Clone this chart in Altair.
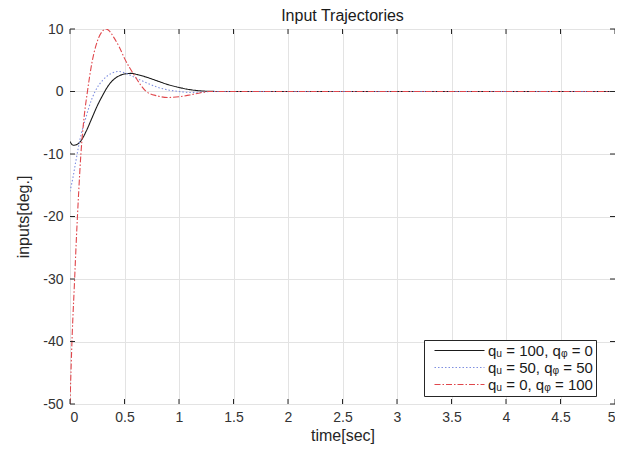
import altair as alt
import pandas as pd

# ---- data ----
t_black = [0, 0.03, 0.06, 0.10, 0.15, 0.20, 0.25, 0.30, 0.35, 0.40, 0.45, 0.50, 0.56, 0.62, 0.70, 0.80, 0.90, 1.00, 1.10, 1.20, 1.30, 1.40, 2.0, 3.0, 4.0, 5.0]
v_black = [-8.0, -8.6, -8.5, -7.9, -6.3, -4.3, -2.3, -0.6, 0.9, 1.9, 2.5, 2.8, 2.9, 2.7, 2.3, 1.7, 1.1, 0.65, 0.3, 0.1, 0.02, 0.0, 0.0, 0.0, 0.0, 0.0]

t_blue = [0, 0.03, 0.05, 0.10, 0.14, 0.20, 0.23, 0.30, 0.38, 0.45, 0.50, 0.60, 0.70, 0.80, 0.90, 1.00, 1.10, 1.20, 1.30, 1.40, 2.0, 3.0, 4.0, 5.0]
v_blue = [-16.0, -13.5, -11.5, -7.0, -4.5, -1.2, 0.0, 1.8, 2.9, 3.2, 3.0, 2.2, 1.4, 0.7, 0.25, 0.0, -0.15, -0.1, 0.0, 0.0, 0.0, 0.0, 0.0, 0.0]

t_red = [0, 0.02, 0.04, 0.06, 0.08, 0.10, 0.13, 0.16, 0.20, 0.25, 0.30, 0.33, 0.36, 0.40, 0.45, 0.50, 0.59, 0.70, 0.80, 0.90, 1.00, 1.10, 1.20, 1.27, 1.40, 2.0, 3.0, 4.0, 5.0]
v_red = [-50.0, -39.0, -31.0, -23.0, -16.0, -10.0, -4.0, 0.0, 4.5, 8.0, 9.7, 10.0, 9.7, 8.7, 7.2, 5.3, 2.6, 0.0, -0.7, -0.95, -0.85, -0.55, -0.2, 0.0, 0.0, 0.0, 0.0, 0.0, 0.0]

labels = ["q\u1d64 = 100, q\u1d69 = 0", "q\u1d64 = 50, q\u1d69 = 50", "q\u1d64 = 0, q\u1d69 = 100"]
colors = ["#1a1a1a", "#7f8fe0", "#e0474c"]
dashes = [[1, 0], [1.5, 2], [6, 2, 1.5, 2]]

x_ticks = [0, 0.5, 1, 1.5, 2, 2.5, 3, 3.5, 4, 4.5, 5]
y_ticks = [-50, -40, -30, -20, -10, 0, 10]

W, H = 545, 375
FONT = "Liberation Sans"

rows = []
for lab, ts, vs in zip(labels, [t_black, t_blue, t_red], [v_black, v_blue, v_red]):
    for i, (t, v) in enumerate(zip(ts, vs)):
        rows.append({"series": lab, "t": t, "v": v, "order": i})
df = pd.DataFrame(rows)

xscale = alt.Scale(domain=[0, 5], nice=False, zero=False)
yscale = alt.Scale(domain=[-50, 10], nice=False, zero=False)

axis_common = dict(ticks=False, domain=False, gridColor="#e3e3e3",
                   labelFontSize=14, titleFontSize=16, titleFontWeight="normal",
                   labelColor="#333333", titleColor="#262626", labelFont=FONT,
                   titleFont=FONT, labelExpr="'' + datum.value")

lines = alt.Chart(df).mark_line(strokeWidth=1.1, interpolate="monotone", clip=True).encode(
    x=alt.X("t:Q", scale=xscale, title="time[sec]",
            axis=alt.Axis(values=x_ticks, labelPadding=6, titlePadding=3, **axis_common)),
    y=alt.Y("v:Q", scale=yscale, title="inputs[deg.]",
            axis=alt.Axis(values=y_ticks, labelPadding=7, titlePadding=11, **axis_common)),
    color=alt.Color("series:N", scale=alt.Scale(domain=labels, range=colors),
                    legend=alt.Legend(title=None, orient="none", legendX=354, legendY=311,
                                      symbolType="M0,0H10", symbolSize=100, symbolStrokeWidth=1.1,
                                      labelFontSize=15, labelFont=FONT, labelColor="#1a1a1a",
                                      fillColor="white", strokeColor="#262626",
                                      padding=3, rowPadding=1, labelOffset=46)),
    strokeDash=alt.StrokeDash("series:N", scale=alt.Scale(domain=labels, range=dashes), legend=None),
    order="order:Q",
)

xt = pd.DataFrame({"x": x_ticks})
yt = pd.DataFrame({"y": y_ticks})
tick_color = "#262626"
bt = alt.Chart(xt).mark_rule(color=tick_color, strokeWidth=1).encode(
    x=alt.X("x:Q", scale=xscale), y=alt.value(H), y2=alt.value(H - 5))
tt = alt.Chart(xt).mark_rule(color=tick_color, strokeWidth=1).encode(
    x=alt.X("x:Q", scale=xscale), y=alt.value(0), y2=alt.value(5))
lt = alt.Chart(yt).mark_rule(color=tick_color, strokeWidth=1).encode(
    y=alt.Y("y:Q", scale=yscale), x=alt.value(0), x2=alt.value(5))
rt = alt.Chart(yt).mark_rule(color=tick_color, strokeWidth=1).encode(
    y=alt.Y("y:Q", scale=yscale), x=alt.value(W), x2=alt.value(W - 5))

chart = alt.layer(lines, bt, tt, lt, rt).properties(
    width=W, height=H,
    title=alt.TitleParams("Input Trajectories", fontSize=16, fontWeight="normal",
                          font=FONT, color="#1a1a1a", offset=0, dy=2),
    autosize=alt.AutoSizeParams(type="none"),
    padding={"left": 62, "top": 21, "right": 0, "bottom": 44},
).configure_view(stroke="#262626", strokeWidth=1).configure(background="white")

chart.save("out.html", embed_options={"renderer": "svg", "actions": False})
